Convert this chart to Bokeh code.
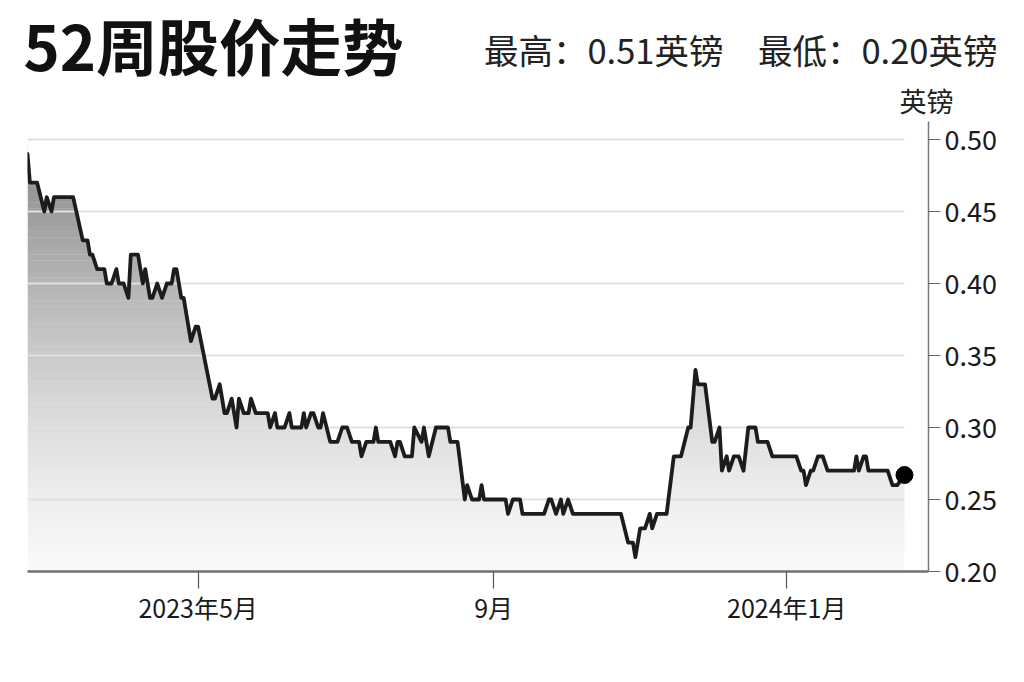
import numpy as np
import pandas as pd
from bokeh.plotting import figure
from bokeh.layouts import column
from bokeh.models import Range1d, FixedTicker, Label, NumeralTickFormatter
from bokeh.embed import file_html
from bokeh.resources import INLINE

# ---------------- data ----------------
dates = [
    "2023-02-19", "2023-02-20", "2023-02-23", "2023-02-26", "2023-02-27", "2023-03-01", "2023-03-02",
    "2023-03-10", "2023-03-14", "2023-03-16", "2023-03-17", "2023-03-18", "2023-03-20", "2023-03-23",
    "2023-03-24", "2023-03-26", "2023-03-28", "2023-03-29", "2023-03-31", "2023-04-02", "2023-04-03",
    "2023-04-06", "2023-04-08", "2023-04-09", "2023-04-11", "2023-04-12", "2023-04-14", "2023-04-16",
    "2023-04-18", "2023-04-20", "2023-04-21", "2023-04-22", "2023-04-24", "2023-04-25", "2023-04-28",
    "2023-04-30", "2023-05-01", "2023-05-07", "2023-05-08", "2023-05-10", "2023-05-12", "2023-05-13",
    "2023-05-15", "2023-05-17", "2023-05-18", "2023-05-20", "2023-05-22", "2023-05-23", "2023-05-25",
    "2023-05-30", "2023-05-31", "2023-06-02", "2023-06-03", "2023-06-06", "2023-06-08", "2023-06-09",
    "2023-06-13", "2023-06-14", "2023-06-15", "2023-06-17", "2023-06-18", "2023-06-20", "2023-06-21",
    "2023-06-22", "2023-06-25", "2023-06-28", "2023-06-30", "2023-07-02", "2023-07-04", "2023-07-07",
    "2023-07-08", "2023-07-10", "2023-07-13", "2023-07-14", "2023-07-15", "2023-07-20", "2023-07-22",
    "2023-07-23", "2023-07-24", "2023-07-26", "2023-07-29", "2023-07-30", "2023-08-02", "2023-08-03",
    "2023-08-05", "2023-08-08", "2023-08-13", "2023-08-14", "2023-08-17", "2023-08-20", "2023-08-21",
    "2023-08-23", "2023-08-26", "2023-08-27", "2023-08-28", "2023-09-06", "2023-09-07", "2023-09-09",
    "2023-09-12", "2023-09-13", "2023-09-22", "2023-09-24", "2023-09-25", "2023-09-27", "2023-09-29",
    "2023-09-30", "2023-10-02", "2023-10-04", "2023-10-24", "2023-10-27", "2023-10-29", "2023-10-30",
    "2023-11-01", "2023-11-03", "2023-11-05", "2023-11-06", "2023-11-08", "2023-11-12", "2023-11-15",
    "2023-11-18", "2023-11-21", "2023-11-22", "2023-11-24", "2023-11-25", "2023-11-28", "2023-12-01",
    "2023-12-02", "2023-12-04", "2023-12-05", "2023-12-07", "2023-12-08", "2023-12-10", "2023-12-12",
    "2023-12-14", "2023-12-16", "2023-12-19", "2023-12-20", "2023-12-24", "2023-12-26", "2024-01-05",
    "2024-01-07", "2024-01-08", "2024-01-09", "2024-01-11", "2024-01-12", "2024-01-14", "2024-01-16",
    "2024-01-18", "2024-01-29", "2024-01-30", "2024-01-31", "2024-02-02", "2024-02-03", "2024-02-04",
    "2024-02-12", "2024-02-14", "2024-02-16", "2024-02-19",
]
prices = [
    0.49, 0.47, 0.47, 0.45, 0.46, 0.45, 0.46,
    0.46, 0.43, 0.43, 0.42, 0.42, 0.41, 0.41,
    0.40, 0.40, 0.41, 0.40, 0.40, 0.39, 0.42,
    0.42, 0.40, 0.41, 0.39, 0.39, 0.40, 0.39,
    0.40, 0.40, 0.41, 0.41, 0.39, 0.39, 0.36,
    0.37, 0.37, 0.32, 0.32, 0.33, 0.31, 0.31,
    0.32, 0.30, 0.32, 0.31, 0.31, 0.32, 0.31,
    0.31, 0.30, 0.31, 0.30, 0.30, 0.31, 0.30,
    0.30, 0.31, 0.30, 0.31, 0.31, 0.30, 0.30,
    0.31, 0.29, 0.29, 0.30, 0.30, 0.29, 0.29,
    0.28, 0.29, 0.29, 0.30, 0.29, 0.29, 0.28,
    0.29, 0.29, 0.28, 0.28, 0.30, 0.29, 0.30,
    0.28, 0.30, 0.30, 0.29, 0.29, 0.25, 0.26,
    0.25, 0.25, 0.26, 0.25, 0.25, 0.24, 0.25,
    0.25, 0.24, 0.24, 0.25, 0.25, 0.24, 0.25,
    0.24, 0.25, 0.24, 0.24, 0.22, 0.22, 0.21,
    0.23, 0.23, 0.24, 0.23, 0.24, 0.24, 0.28,
    0.28, 0.30, 0.30, 0.34, 0.33, 0.33, 0.29,
    0.29, 0.30, 0.27, 0.28, 0.27, 0.28, 0.28,
    0.27, 0.30, 0.30, 0.29, 0.29, 0.28, 0.28,
    0.27, 0.27, 0.26, 0.27, 0.27, 0.28, 0.28,
    0.27, 0.27, 0.28, 0.27, 0.28, 0.28, 0.27,
    0.27, 0.26, 0.26, 0.267,
]
y_ticks = [0.20, 0.25, 0.30, 0.35, 0.40, 0.45, 0.50]
x_tick_dates = ["2023-05-01", "2023-09-01", "2024-01-01"]
x_tick_labels = ["2023年5月", "9月", "2024年1月"]
x_start, x_end = "2023-02-19", "2024-02-29"
y_min, y_max = 0.20, 0.5125

title_text = "52周股价走势"
high_text = "最高：0.51英镑"
low_text = "最低：0.20英镑"
unit_text = "英镑"

FONT = "Noto Sans CJK SC"
W = 1016
HEAD_H = 120

# ---------------- header strip (title, high/low, unit) ----------------
head = figure(width=W, height=HEAD_H, x_range=Range1d(0, W), y_range=Range1d(HEAD_H, 0),
              x_axis_location=None, y_axis_location=None,
              output_backend="svg", toolbar_location=None,
              min_border_left=0, min_border_right=0, min_border_top=0, min_border_bottom=0)
head.frame_align = False
head.outline_line_color = None
head.xgrid.visible = False
head.ygrid.visible = False
head.add_layout(Label(x=23, y=44, text=title_text, text_font=FONT, text_font_style="bold",
                      text_font_size="61.5px", text_color="#111111",
                      text_align="left", text_baseline="middle"))
head.add_layout(Label(x=997, y=48, text=high_text + "\u3000" + low_text, text_font=FONT,
                      text_font_size="34.5px", text_color="#222222",
                      text_align="right", text_baseline="middle"))
head.add_layout(Label(x=899, y=100, text=unit_text, text_font=FONT,
                      text_font_size="27px", text_color="#222222",
                      text_align="left", text_baseline="middle"))

# ---------------- main chart ----------------
x = pd.to_datetime(dates)
pr = np.array(prices, dtype=float)
to_ms = lambda d: pd.Timestamp(d).value / 1e6

p = figure(
    width=W, height=560,
    x_axis_type="datetime", y_axis_location="right",
    x_range=Range1d(pd.Timestamp(x_start), pd.Timestamp(x_end)),
    y_range=Range1d(y_min, y_max),
    output_backend="svg", toolbar_location=None,
    min_border_left=27, min_border_right=88, min_border_top=1, min_border_bottom=109,
)
p.frame_align = False
p.outline_line_color = None
p.xgrid.visible = False
p.ygrid.visible = False
p.background_fill_color = "white"
p.border_fill_color = "white"

# gradient under the line: stacked horizontal bands over the data span,
# then everything above the price line is masked with white
step = 0.004
top_ref = pr.max()
levels = np.arange(y_min, top_ref + step, step)
band_colors = []
for lo in levels:
    t = ((lo + step / 2) - y_min) / (top_ref - y_min)
    t = float(np.clip(t, 0, 1)) ** 1.3
    c = int(round(249 - t * (249 - 138)))
    band_colors.append("#%02x%02x%02x" % (c, c, c))
p.quad(left=x[0], right=x[-1], bottom=levels, top=levels + step * 1.05,
       fill_color=band_colors, line_color=None)
pad = pd.Timedelta(days=5)
mask_top = y_max + 0.02
mask_x = [x[0] - pad] + list(x) + [x[-1] + pad, x[-1] + pad, x[0] - pad]
mask_y = [pr[0]] + list(pr) + [pr[-1], mask_top, mask_top]
p.patch(x=mask_x, y=mask_y, fill_color="white", line_color=None)

# grid lines (drawn only across the data span)
grid_vals = [v for v in y_ticks if v > y_min]
n = len(grid_vals)
p.segment(x0=[x[0]] * n, x1=[x[-1]] * n, y0=grid_vals, y1=grid_vals,
          line_color="#e0e0e0", line_width=2)

# price line and end marker
p.line(x, pr, line_color="#1c1c1c", line_width=3.8, line_join="round", line_cap="round")
p.scatter([x[-1]], [pr[-1]], size=17, fill_color="#000000", line_color="#000000")

# x axis
xa = p.xaxis[0]
tick_ms = [to_ms(d) for d in x_tick_dates]
xa.ticker = FixedTicker(ticks=tick_ms)
xa.major_label_overrides = {t: l for t, l in zip(tick_ms, x_tick_labels)}
xa.axis_line_color = "#707070"
xa.axis_line_width = 2.5
xa.major_tick_line_color = "#555555"
xa.major_tick_line_width = 1.2
xa.major_tick_out = 17
xa.major_tick_in = 0
xa.minor_tick_line_color = None
xa.major_label_standoff = 0
xa.major_label_text_font = FONT
xa.major_label_text_font_size = "25px"
xa.major_label_text_color = "#1a1a1a"

# y axis (right)
ya = p.yaxis[0]
ya.ticker = FixedTicker(ticks=y_ticks)
ya.formatter = NumeralTickFormatter(format="0.00")
ya.axis_line_color = "#7a7a7a"
ya.axis_line_width = 1.5
ya.major_tick_line_color = "#666666"
ya.major_tick_line_width = 1.2
ya.major_tick_out = 12
ya.major_tick_in = 0
ya.minor_tick_line_color = None
ya.major_label_standoff = 4
ya.major_label_text_font = FONT
ya.major_label_text_font_size = "27px"
ya.major_label_text_color = "#1a1a1a"

layout = column(head, p, spacing=0)
open("out.html", "w").write(file_html(layout, INLINE))
